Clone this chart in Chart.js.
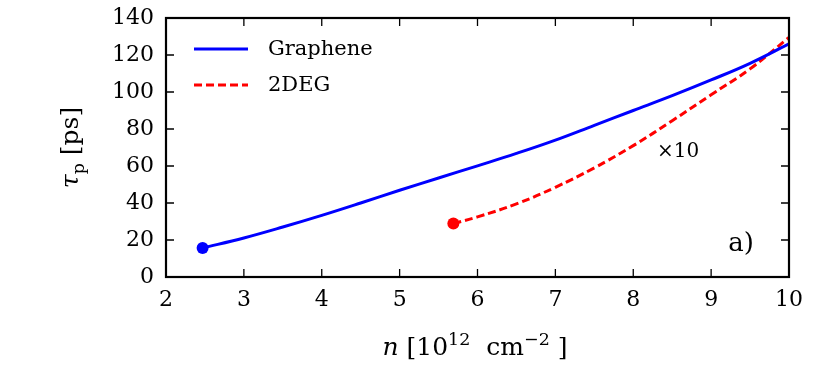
<!DOCTYPE html>
<html>
<head>
<meta charset="utf-8">
<script src="https://cdn.jsdelivr.net/npm/chart.js@4.4.0/dist/chart.umd.min.js"></script>
<style>
  html, body { margin: 0; padding: 0; background: #fff; }
  #wrap { width: 830px; height: 369px; }
</style>
</head>
<body>
<div id="wrap"><canvas id="tauChart" width="830" height="369"></canvas></div>
<script>
// === data ===
const grapheneN   = [2.47, 3, 3.5, 4, 4.5, 5, 5.5, 6, 6.5, 7, 7.5, 8, 8.5, 9, 9.5, 10];
const grapheneTau = [15.7, 21.1, 27, 33.3, 40, 46.9, 53.5, 60.1, 66.8, 74, 82, 90, 98, 106.5, 115.5, 126];

const twoDegN   = [5.69, 6, 6.5, 7, 7.5, 8, 8.5, 9, 9.5, 10];
const twoDegTau = [28.9, 32.5, 39.5, 48.5, 59, 71, 84.5, 98.5, 112.5, 129.5];

const xTicks = [2, 3, 4, 5, 6, 7, 8, 9, 10];
const yTicks = [0, 20, 40, 60, 80, 100, 120, 140];

const seriesLabels = ["Graphene", "2DEG"];
const seriesColors = ["#0000ff", "#ff0000"];

const SERIF = "'DejaVu Serif', 'Liberation Serif', serif";

function toPoints(xs, ys) {
    return xs.map((x, i) => ({ x: x, y: ys[i] }));
}

// draws a run of text pieces (normal / italic / super / sub) centred on cx
function drawRuns(ctx, runs, size, cx, baseline) {
    const fontFor = r => {
        const s = r.sup || r.sub ? size * 0.7 : size;
        return (r.italic ? "italic " : "") + s + "px " + SERIF;
    };
    let total = 0;
    runs.forEach(r => { ctx.font = fontFor(r); total += ctx.measureText(r.t).width; });
    let x = cx - total / 2;
    runs.forEach(r => {
        ctx.font = fontFor(r);
        let y = baseline;
        if (r.sup) y -= size * 0.42;
        if (r.sub) y += size * 0.22;
        ctx.fillText(r.t, x, y);
        x += ctx.measureText(r.t).width;
    });
}

const framePlugin = {
    id: "frameAndText",
    afterDatasetsDraw(chart) {
        const ctx = chart.ctx;
        const a = chart.chartArea;
        const xs = chart.scales.x;
        const ys = chart.scales.y;
        ctx.save();

        // frame
        ctx.strokeStyle = "#000";
        ctx.lineWidth = 2.2;
        ctx.strokeRect(a.left, a.top, a.right - a.left, a.bottom - a.top);

        // inward ticks on all four sides
        ctx.lineWidth = 1.3;
        ctx.beginPath();
        xTicks.forEach(v => {
            const px = xs.getPixelForValue(v);
            ctx.moveTo(px, a.bottom); ctx.lineTo(px, a.bottom - 8);
            ctx.moveTo(px, a.top); ctx.lineTo(px, a.top + 8);
        });
        yTicks.forEach(v => {
            const py = ys.getPixelForValue(v);
            ctx.moveTo(a.left, py); ctx.lineTo(a.left + 8, py);
            ctx.moveTo(a.right, py); ctx.lineTo(a.right - 8, py);
        });
        ctx.stroke();

        // legend (no frame)
        ctx.textBaseline = "middle";
        ctx.textAlign = "left";
        chart.data.datasets.forEach((ds, i) => {
            const y = a.top + 31 + i * 36;
            ctx.strokeStyle = ds.borderColor;
            ctx.lineWidth = ds.borderWidth;
            ctx.setLineDash(ds.borderDash || []);
            ctx.beginPath();
            ctx.moveTo(a.left + 28, y);
            ctx.lineTo(a.left + 82, y);
            ctx.stroke();
            ctx.setLineDash([]);
            ctx.fillStyle = "#000";
            ctx.font = "21px " + SERIF;
            ctx.fillText(ds.label, a.left + 102, y + 1);
        });

        // annotations
        ctx.fillStyle = "#000";
        ctx.textAlign = "center";
        ctx.font = "20px " + SERIF;
        ctx.fillText("\u00d710", 678, 152);
        ctx.font = "26px " + SERIF;
        ctx.fillText("a)", 741, 244);

        // axis titles
        ctx.textAlign = "left";
        ctx.textBaseline = "alphabetic";
        drawRuns(ctx, [
            { t: "n", italic: true },
            { t: " [10" },
            { t: "12", sup: true },
            { t: "  cm" },
            { t: "\u22122", sup: true },
            { t: " ]" }
        ], 25, 475, 355);

        ctx.translate(78, (a.top + a.bottom) / 2);
        ctx.rotate(-Math.PI / 2);
        drawRuns(ctx, [
            { t: "\u03c4", italic: true },
            { t: "p", sub: true },
            { t: " [ps]" }
        ], 25, 0, 0);

        ctx.restore();
    }
};

const tauCtx = document.getElementById("tauChart").getContext("2d");

new Chart(tauCtx, {
    type: "scatter",
    data: {
        datasets: [
            {
                label: seriesLabels[0],
                data: toPoints(grapheneN, grapheneTau),
                showLine: true,
                borderColor: seriesColors[0],
                backgroundColor: seriesColors[0],
                borderWidth: 3,
                tension: 0.4,
                pointRadius: c => c.dataIndex === 0 ? 6 : 0,
                pointHoverRadius: 0,
                pointBorderWidth: 0
            },
            {
                label: seriesLabels[1],
                data: toPoints(twoDegN, twoDegTau),
                showLine: true,
                borderColor: seriesColors[1],
                backgroundColor: seriesColors[1],
                borderWidth: 3,
                borderDash: [8, 4],
                tension: 0.4,
                pointRadius: c => c.dataIndex === 0 ? 6 : 0,
                pointHoverRadius: 0,
                pointBorderWidth: 0
            }
        ]
    },
    options: {
        responsive: false,
        devicePixelRatio: 1,
        animation: false,
        events: [],
        layout: { padding: { top: 18, right: 41, bottom: 0, left: 0 } },
        plugins: {
            legend: { display: false },
            tooltip: { enabled: false }
        },
        scales: {
            x: {
                type: "linear",
                min: 2,
                max: 10,
                afterBuildTicks: s => { s.ticks = xTicks.map(v => ({ value: v })); },
                afterFit: s => { s.height = 92; s.paddingLeft = 0; s.paddingRight = 0; },
                grid: { display: false, drawTicks: false },
                border: { display: false },
                ticks: {
                    color: "#000",
                    padding: 10,
                    maxRotation: 0,
                    font: { family: SERIF, size: 22 }
                }
            },
            y: {
                type: "linear",
                min: 0,
                max: 140,
                afterBuildTicks: s => { s.ticks = yTicks.map(v => ({ value: v })); },
                afterFit: s => { s.width = 166; s.paddingTop = 0; s.paddingBottom = 0; },
                grid: { display: false, drawTicks: false },
                border: { display: false },
                ticks: {
                    color: "#000",
                    padding: 12,
                    font: { family: SERIF, size: 22 }
                }
            }
        }
    },
    plugins: [framePlugin]
});
</script>
</body>
</html>
